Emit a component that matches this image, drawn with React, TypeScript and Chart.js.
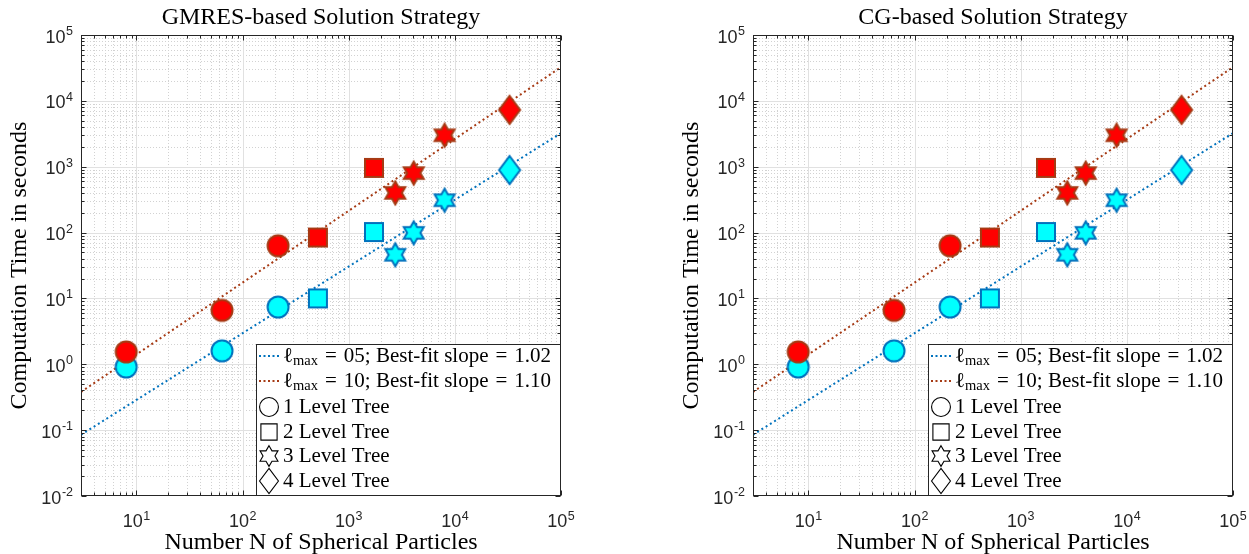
import React, { useEffect, useRef } from 'react';
import { Chart, registerables } from 'chart.js';

Chart.register(...registerables);

// ---------------- data ----------------
const particleCounts = [8, 64, 216, 512, 1728, 2744, 4096, 8000, 32768];
const treeLevel = [1, 1, 1, 2, 2, 3, 3, 3, 4];
const gmresTimeL05 = [0.91, 1.6, 7.4, 10, 102, 46, 99, 310, 890];
const gmresTimeL10 = [1.54, 6.6, 63, 84, 960, 400, 800, 3000, 7300];
const cgTimeL05 = [0.91, 1.6, 7.4, 10, 102, 46, 99, 310, 890];
const cgTimeL10 = [1.54, 6.6, 63, 84, 960, 400, 800, 3000, 7300];
const fitX = [3, 100000];
const fitL05 = [0.085, 3240];
const fitL10 = [0.38, 32500];
const lmaxLabels = ['05', '10'];
const slopeLabels = ['1.02', '1.10'];
const treeLabels = ['1 Level Tree', '2 Level Tree', '3 Level Tree', '4 Level Tree'];
const xTickValues = [10, 100, 1000, 10000, 100000];
const yTickValues = [0.01, 0.1, 1, 10, 100, 1000, 10000, 100000];
const titles = ['GMRES-based Solution Strategy', 'CG-based Solution Strategy'];
const xTitle = 'Number N of Spherical Particles';
const yTitle = 'Computation Time in seconds';

// ---------------- style ----------------
const X_MIN = 3, X_MAX = 100000, Y_MIN = 0.01, Y_MAX = 100000;
const BLUE = '#0072BD';
const CYAN = '#00FFFF';
const RED = '#FF0000';
const BROWN = '#A63A14';
const AXIS = '#262626';
const SERIF = '"Liberation Serif", "Times New Roman", serif';
const SANS = '"Liberation Sans", Arial, sans-serif';

const expOf = (v: number) => String(Math.round(Math.log10(v)));

function shapePath(ctx: CanvasRenderingContext2D, kind: number, cx: number, cy: number, s: number) {
  ctx.beginPath();
  if (kind === 1) {
    ctx.arc(cx, cy, 10.5 * s, 0, Math.PI * 2);
  } else if (kind === 2) {
    const h = 9 * s;
    ctx.rect(cx - h, cy - h, 2 * h, 2 * h);
  } else if (kind === 3) {
    const R = 11.5 * s, r = R / Math.sqrt(3);
    for (let i = 0; i < 12; i++) {
      const ang = -Math.PI / 2 + (i * Math.PI) / 6;
      const rr = i % 2 === 0 ? R : r;
      const px = cx + rr * Math.cos(ang), py = cy + rr * Math.sin(ang);
      if (i === 0) ctx.moveTo(px, py); else ctx.lineTo(px, py);
    }
    ctx.closePath();
  } else {
    const hw = 10.5 * s, hh = 14 * s;
    ctx.moveTo(cx, cy - hh);
    ctx.lineTo(cx + hw, cy);
    ctx.lineTo(cx, cy + hh);
    ctx.lineTo(cx - hw, cy);
    ctx.closePath();
  }
}

function makeMarker(kind: number, fill: string, stroke: string, lw: number, s = 1): HTMLCanvasElement {
  const c = document.createElement('canvas');
  const size = 36;
  c.width = size; c.height = size;
  const ctx = c.getContext('2d')!;
  shapePath(ctx, kind, size / 2, size / 2, s);
  ctx.fillStyle = fill;
  ctx.fill();
  ctx.lineWidth = lw;
  ctx.strokeStyle = stroke;
  ctx.lineJoin = 'miter';
  ctx.stroke();
  return c;
}

function minorValues(min: number, max: number) {
  const out: number[] = [];
  for (let e = -3; e <= 6; e++) {
    for (let m = 2; m <= 9; m++) {
      const v = m * Math.pow(10, e);
      if (v > min && v < max) out.push(v);
    }
  }
  return out;
}
function majorValues(min: number, max: number) {
  const out: number[] = [];
  for (let e = -3; e <= 6; e++) {
    const v = Math.pow(10, e);
    if (v >= min * 0.9999 && v <= max * 1.0001) out.push(v);
  }
  return out;
}

// draws "10" with a raised exponent; anchor: 'center' (x axis) or 'right' (y axis)
function drawPow(ctx: CanvasRenderingContext2D, v: number, x: number, baseline: number, anchor: 'center' | 'right') {
  const e = expOf(v);
  ctx.font = `18px ${SANS}`;
  const wb = ctx.measureText('10').width;
  ctx.font = `12.5px ${SANS}`;
  const we = ctx.measureText(e).width;
  const total = wb + 0.5 + we;
  const x0 = anchor === 'center' ? x - total / 2 : x - total;
  ctx.textAlign = 'left';
  ctx.textBaseline = 'alphabetic';
  ctx.fillStyle = AXIS;
  ctx.font = `18px ${SANS}`;
  ctx.fillText('10', x0, baseline);
  ctx.font = `12.5px ${SANS}`;
  ctx.fillText(e, x0 + wb + 0.5, baseline - 7.5);
}

function makeDecorPlugin(legendMarkers: HTMLCanvasElement[]) {
  return {
    id: 'decor',
    beforeDatasetsDraw(chart: any) {
      const { ctx, chartArea: a, scales } = chart;
      const xs = scales.x, ys = scales.y;
      ctx.save();
      ctx.beginPath();
      ctx.rect(a.left, a.top, a.right - a.left, a.bottom - a.top);
      ctx.clip();
      ctx.lineWidth = 1;
      ctx.strokeStyle = '#d2d2d2';
      ctx.setLineDash([1, 2]);
      for (const v of minorValues(X_MIN, X_MAX)) {
        const px = Math.round(xs.getPixelForValue(v)) + 0.5;
        ctx.beginPath(); ctx.moveTo(px, a.top); ctx.lineTo(px, a.bottom); ctx.stroke();
      }
      for (const v of minorValues(Y_MIN, Y_MAX)) {
        const py = Math.round(ys.getPixelForValue(v)) + 0.5;
        ctx.beginPath(); ctx.moveTo(a.left, py); ctx.lineTo(a.right, py); ctx.stroke();
      }
      ctx.setLineDash([]);
      ctx.strokeStyle = '#e1e1e1';
      for (const v of majorValues(X_MIN, X_MAX)) {
        const px = Math.round(xs.getPixelForValue(v)) + 0.5;
        ctx.beginPath(); ctx.moveTo(px, a.top); ctx.lineTo(px, a.bottom); ctx.stroke();
      }
      for (const v of majorValues(Y_MIN, Y_MAX)) {
        const py = Math.round(ys.getPixelForValue(v)) + 0.5;
        ctx.beginPath(); ctx.moveTo(a.left, py); ctx.lineTo(a.right, py); ctx.stroke();
      }
      ctx.restore();
    },
    afterDatasetsDraw(chart: any) {
      const { ctx, chartArea: a, scales } = chart;
      const xs = scales.x, ys = scales.y;
      const L = Math.round(a.left) + 0.5, R = Math.round(a.right) - 0.5;
      const T = Math.round(a.top) + 0.5, B = Math.round(a.bottom) - 0.5;
      ctx.save();
      ctx.strokeStyle = AXIS;
      ctx.lineWidth = 1;
      const xt = (v: number, len: number) => {
        const px = Math.round(xs.getPixelForValue(v)) + 0.5;
        ctx.beginPath();
        ctx.moveTo(px, B); ctx.lineTo(px, B - len);
        ctx.moveTo(px, T); ctx.lineTo(px, T + len);
        ctx.stroke();
      };
      const yt = (v: number, len: number) => {
        const py = Math.round(ys.getPixelForValue(v)) + 0.5;
        ctx.beginPath();
        ctx.moveTo(L, py); ctx.lineTo(L + len, py);
        ctx.moveTo(R, py); ctx.lineTo(R - len, py);
        ctx.stroke();
      };
      minorValues(X_MIN, X_MAX).forEach((v) => xt(v, 3));
      majorValues(X_MIN, X_MAX).forEach((v) => xt(v, 5));
      minorValues(Y_MIN, Y_MAX).forEach((v) => yt(v, 3));
      majorValues(Y_MIN, Y_MAX).forEach((v) => yt(v, 5));

      // tick labels, placed by the scales
      for (const t of xs.ticks) drawPow(ctx, t.value, xs.getPixelForValue(t.value), a.bottom + 31, 'center');
      for (const t of ys.ticks) drawPow(ctx, t.value, a.left - 8, ys.getPixelForValue(t.value) + 7.5, 'right');

      // legend
      const lw = 305, lh = 152;
      const lx = Math.round(a.right) - lw, ly = Math.round(a.bottom) - lh;
      ctx.fillStyle = '#ffffff';
      ctx.fillRect(lx, ly, lw, lh);
      ctx.strokeStyle = AXIS;
      ctx.strokeRect(lx + 0.5, ly + 0.5, lw - 1, lh - 1);
      const rows = [12, 37, 63, 88, 112, 137];
      const textX = lx + 27;
      ctx.textBaseline = 'middle';
      ctx.textAlign = 'left';
      const lineColors = [BLUE, BROWN];
      const F = `21px ${SERIF}`;
      for (let i = 0; i < 2; i++) {
        const y = ly + rows[i];
        ctx.save();
        ctx.strokeStyle = lineColors[i];
        ctx.lineWidth = 2;
        ctx.setLineDash([2, 2.5]);
        ctx.beginPath(); ctx.moveTo(lx + 3, y); ctx.lineTo(lx + 25, y); ctx.stroke();
        ctx.restore();
        ctx.fillStyle = '#000';
        let x = textX;
        const put = (s: string, font: string, dy = 0, gap = 0) => {
          ctx.font = font;
          ctx.fillText(s, x, y + dy);
          x += ctx.measureText(s).width + gap;
        };
        put('ℓ', F);
        put('max', `14.5px ${SERIF}`, 5, 7);
        put('=', F, 0, 7);
        put(`${lmaxLabels[i]}; Best-fit slope`, F, 0, 7);
        put('=', F, 0, 7);
        put(slopeLabels[i], F);
      }
      for (let k = 0; k < 4; k++) {
        const y = ly + rows[k + 2];
        const m = legendMarkers[k];
        ctx.drawImage(m, lx + 13 - m.width / 2, y - m.height / 2);
        ctx.fillStyle = '#000';
        ctx.font = F;
        ctx.fillText(treeLabels[k], textX, y);
      }

      ctx.strokeStyle = AXIS;
      ctx.lineWidth = 1;
      ctx.strokeRect(L, T, R - L, B - T);
      ctx.restore();
    },
  };
}

function Panel({ title, t05, t10, left, width }: { title: string; t05: number[]; t10: number[]; left: number; width: number }) {
  const ref = useRef<HTMLCanvasElement>(null);
  useEffect(() => {
    const cyanMarkers: Record<number, HTMLCanvasElement> = {};
    const redMarkers: Record<number, HTMLCanvasElement> = {};
    for (let k = 1; k <= 4; k++) {
      cyanMarkers[k] = makeMarker(k, CYAN, BLUE, 2);
      redMarkers[k] = makeMarker(k, RED, BROWN, 2);
    }
    const legendMarkers = [1, 2, 3, 4].map((k) => makeMarker(k, '#ffffff', '#000000', 1.1, 0.9));
    const pts = (arr: number[]) => particleCounts.map((n, i) => ({ x: n, y: arr[i] }));
    const fit = (arr: number[]) => fitX.map((x, i) => ({ x, y: arr[i] }));
    const chart = new Chart(ref.current!, {
      type: 'scatter',
      data: {
        datasets: [
          {
            label: 'lmax10',
            data: pts(t10),
            pointStyle: (c: any) => redMarkers[treeLevel[c.dataIndex]],
            pointRadius: 10,
            showLine: false,
          } as any,
          {
            label: 'lmax05',
            data: pts(t05),
            pointStyle: (c: any) => cyanMarkers[treeLevel[c.dataIndex]],
            pointRadius: 10,
            showLine: false,
          } as any,
          {
            label: 'fit10',
            data: fit(fitL10),
            showLine: true,
            borderColor: BROWN,
            borderWidth: 2,
            borderDash: [2, 3],
            pointRadius: 0,
          },
          {
            label: 'fit05',
            data: fit(fitL05),
            showLine: true,
            borderColor: BLUE,
            borderWidth: 2,
            borderDash: [2, 3],
            pointRadius: 0,
          },
        ],
      },
      options: {
        responsive: false,
        animation: false,
        events: [],
        layout: { padding: { left: 0, right: width - 561, top: 0, bottom: 0 } },
        plugins: {
          legend: { display: false },
          tooltip: { enabled: false },
          title: {
            display: true,
            text: title,
            fullSize: false,
            color: '#000',
            font: { family: SERIF, size: 24, weight: 'normal', lineHeight: 1.2 },
            padding: { top: 3, bottom: 3.2 },
          },
        },
        scales: {
          x: {
            type: 'logarithmic',
            min: X_MIN,
            max: X_MAX,
            grid: { display: false },
            border: { display: false },
            afterBuildTicks: (s: any) => { s.ticks = xTickValues.map((v) => ({ value: v })); },
            afterFit: (s: any) => { s.height = 58; },
            ticks: { display: false, autoSkip: false },
            title: {
              display: true,
              text: xTitle,
              color: '#000',
              font: { family: SERIF, size: 24, lineHeight: 1 },
              padding: { top: 0, bottom: -1 },
            },
          },
          y: {
            type: 'logarithmic',
            min: Y_MIN,
            max: Y_MAX,
            grid: { display: false },
            border: { display: false },
            afterBuildTicks: (s: any) => { s.ticks = yTickValues.map((v) => ({ value: v })); },
            afterFit: (s: any) => { s.width = 81; },
            ticks: { display: false, autoSkip: false },
            title: {
              display: true,
              text: yTitle,
              color: '#000',
              font: { family: SERIF, size: 24, lineHeight: 1 },
              padding: { top: 8, bottom: 0 },
            },
          },
        },
      } as any,
      plugins: [makeDecorPlugin(legendMarkers)],
    });
    return () => chart.destroy();
  }, [title, t05, t10, width]);
  return (
    <canvas
      ref={ref}
      width={width}
      height={554}
      style={{ position: 'absolute', left, top: 0, width, height: 554 }}
    />
  );
}

export default function App() {
  return (
    <div style={{ position: 'absolute', left: 0, top: 0, width: 1249, height: 554, overflow: 'hidden', background: '#fff' }}>
      <Panel title={titles[0]} t05={gmresTimeL05} t10={gmresTimeL10} left={0} width={600} />
      <Panel title={titles[1]} t05={cgTimeL05} t10={cgTimeL10} left={672} width={577} />
    </div>
  );
}
